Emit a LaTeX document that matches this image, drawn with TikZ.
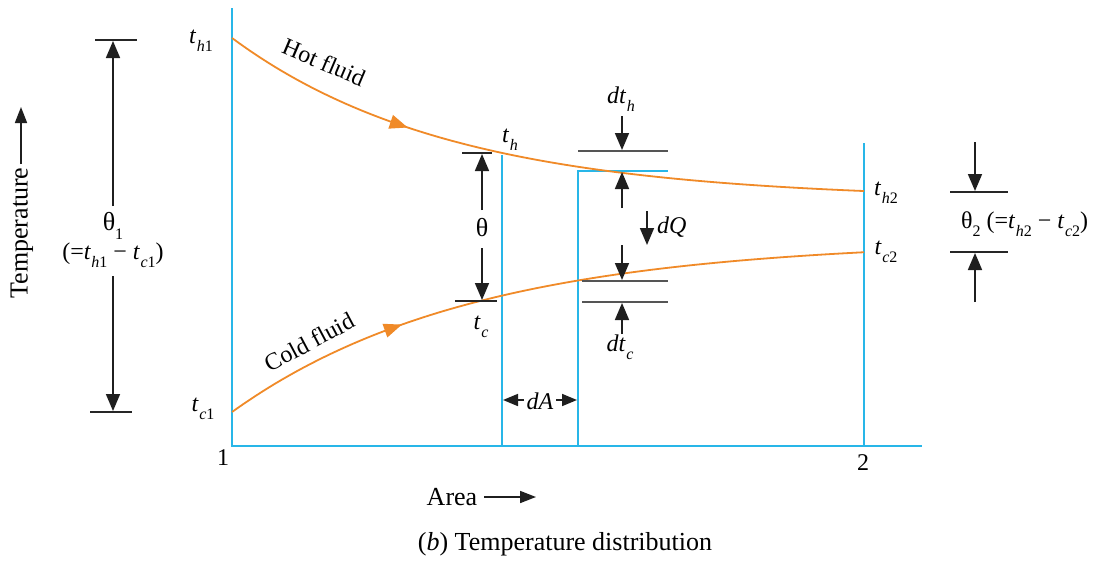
\documentclass[tikz,border=0pt]{standalone}
\usepackage{fontspec}
\setmainfont{Liberation Serif}
\usetikzlibrary{arrows.meta,decorations.markings}
\definecolor{axblue}{RGB}{40,182,232}
\definecolor{fluid}{RGB}{240,138,40}
\definecolor{tickgray}{RGB}{85,85,85}
\newcommand\sbs[1]{\raisebox{-0.32em}{\fontsize{16}{16}\selectfont #1}}
\newcommand\Tv[2]{\textit{t}\kern0.5pt\sbs{\textit{#1}#2}}
\begin{document}
\begin{tikzpicture}[x=1pt,y=-1pt,
  blueline/.style={axblue,line width=2.2pt},
  fluidline/.style={fluid,line width=1.8pt},
  dimline/.style={black!88,line width=1.7pt,-{Triangle[length=17pt,width=14pt]}},
  headonly/.style={black!88,line width=1.7pt,-{Triangle[length=15pt,width=12pt]}},
  axisarrow/.style={black!88,line width=1.7pt,-{Triangle[length=16pt,width=12pt]}},
  tickline/.style={black!85,line width=2pt},
  grayline/.style={tickgray,line width=2.2pt},
  lab/.style={font=\fontsize{24}{28}\selectfont, inner sep=0pt},
  big/.style={font=\fontsize{26}{30}\selectfont, inner sep=0pt},
  flow/.style={postaction={decorate},decoration={markings,
     mark=at position #1 with {\arrow[fluid]{Triangle[length=18pt,width=14pt]}}}}]
\useasboundingbox[fill=white] (0,0) rectangle (1111,560);

% blue frame lines
\coordinate (O) at (232,446);
\coordinate (Ytop) at (232,8);
\coordinate (Xend) at (922,446);
\draw[blueline] (Ytop) -- (O) -- (Xend);
\coordinate (a1) at (502,155); \coordinate (a1b) at (502,446);
\draw[blueline] (a1) -- (a1b);
\coordinate (a2b) at (578,446); \coordinate (a2) at (578,171); \coordinate (a2r) at (668,171);
\draw[blueline] (a2b) -- (a2) -- (a2r);
\coordinate (a3) at (864,143); \coordinate (a3b) at (864,446);
\draw[blueline] (a3) -- (a3b);

% fluid curves
\draw[fluidline,flow=0.3] plot[domain=232:864,samples=90] (\x,{200-162*exp(-0.00458*(\x-232))});
\draw[fluidline,flow=0.29] plot[domain=232:864,samples=90] (\x,{240+172*exp(-0.00418*(\x-232))});

\node[lab,rotate=-23] (hot) at (324,62) {Hot fluid};
\node[lab,rotate=28] (cold) at (309,342) {Cold fluid};

% end labels
\node[lab] (th1) at (201,41) {\Tv{h}{1}};
\node[lab] (tc1) at (203,409) {\Tv{c}{1}};
\node[lab] (th2) at (886,193) {\Tv{h}{2}};
\node[lab] (tc2) at (886,252) {\Tv{c}{2}};
\node[lab] (th) at (510,140) {\Tv{h}{}};
\node[lab] (tc) at (481,327) {\Tv{c}{}};
\node[lab] (one) at (223,458) {1};
\node[lab] (two) at (863,463) {2};

% theta in the middle
\coordinate (thA) at (462,153); \coordinate (thB) at (492,153);
\coordinate (tcA) at (455,301); \coordinate (tcB) at (497,301);
\draw[tickline] (thA) -- (thB);
\draw[tickline] (tcA) -- (tcB);
\node[big] (theta) at (482,228) {θ};
\coordinate (thU0) at (482,210); \coordinate (thU1) at (482,154);
\coordinate (thD0) at (482,248); \coordinate (thD1) at (482,300);
\draw[dimline] (thU0) -- (thU1);
\draw[dimline] (thD0) -- (thD1);

% dt_h, dQ, dt_c
\coordinate (g1a) at (578,151); \coordinate (g1b) at (668,151);
\draw[grayline] (g1a) -- (g1b);
\coordinate (g2a) at (582,281); \coordinate (g2b) at (668,281);
\coordinate (g3a) at (582,302); \coordinate (g3b) at (668,302);
\draw[grayline] (g2a) -- (g2b);
\draw[grayline] (g3a) -- (g3b);
\node[lab] (dth) at (621,99) {\textit{d}\Tv{h}{}};
\coordinate (p1) at (622,116); \coordinate (p1e) at (622,150);
\draw[dimline] (p1) -- (p1e);
\coordinate (p2) at (622,208); \coordinate (p2e) at (622,172);
\draw[dimline] (p2) -- (p2e);
\coordinate (q0) at (647,211); \coordinate (q1) at (647,245);
\draw[dimline] (q0) -- (q1);
\node[lab,anchor=west] (dQ) at (657,227) {\textit{dQ}};
\coordinate (p3) at (622,245); \coordinate (p3e) at (622,280);
\draw[dimline] (p3) -- (p3e);
\coordinate (p4) at (622,334); \coordinate (p4e) at (622,303);
\draw[dimline] (p4) -- (p4e);
\node[lab] (dtc) at (620,347) {\textit{d}\Tv{c}{}};

% dA
\node[lab] (dA) at (540,401) {\textit{dA}};
\coordinate (dAl0) at (524,400); \coordinate (dAl) at (503,400);
\coordinate (dAr0) at (556,400); \coordinate (dAr) at (577,400);
\draw[headonly] (dAl0) -- (dAl);
\draw[headonly] (dAr0) -- (dAr);

% theta_1 on the left
\coordinate (L1a) at (95,40); \coordinate (L1b) at (137,40);
\coordinate (L2a) at (90,412); \coordinate (L2b) at (132,412);
\draw[tickline] (L1a) -- (L1b);
\draw[tickline] (L2a) -- (L2b);
\node[big] (th1lab) at (113,226) {θ\sbs{1}};
\node[lab] (th1eq) at (113,255) {(=\Tv{h}{1} − \Tv{c}{1})};
\coordinate (Lu0) at (113,206); \coordinate (Lu1) at (113,41);
\coordinate (Ld0) at (113,276); \coordinate (Ld1) at (113,411);
\draw[dimline] (Lu0) -- (Lu1);
\draw[dimline] (Ld0) -- (Ld1);

% theta_2 on the right
\coordinate (R1a) at (950,192); \coordinate (R1b) at (1008,192);
\coordinate (R2a) at (950,252); \coordinate (R2b) at (1008,252);
\draw[tickline] (R1a) -- (R1b);
\draw[tickline] (R2a) -- (R2b);
\coordinate (Ru0) at (975,142); \coordinate (Ru1) at (975,191);
\coordinate (Rd0) at (975,302); \coordinate (Rd1) at (975,253);
\draw[dimline] (Ru0) -- (Ru1);
\draw[dimline] (Rd0) -- (Rd1);
\node[lab,anchor=west] (th2lab) at (961,224) {θ\sbs{2} (=\Tv{h}{2} − \Tv{c}{2})};

% axis titles
\node[big,rotate=90] (temp) at (22,233) {Temperature};
\coordinate (ta0) at (21,164); \coordinate (ta1) at (21,107);
\draw[axisarrow] (ta0) -- (ta1);
\node[big] (area) at (452,497) {Area};
\coordinate (aa0) at (484,497); \coordinate (aa1) at (536,497);
\draw[axisarrow] (aa0) -- (aa1);
\node[big] (cap) at (565,544) {(\textit{b}) Temperature distribution};
\end{tikzpicture}
\end{document}
